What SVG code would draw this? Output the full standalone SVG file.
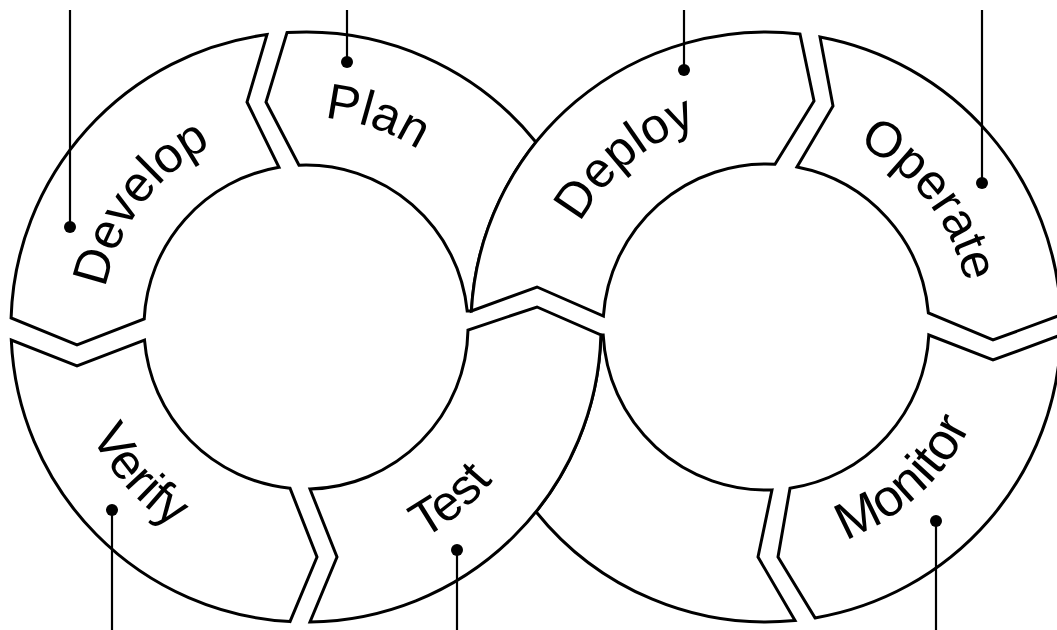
<svg xmlns="http://www.w3.org/2000/svg" width="1057" height="630" viewBox="0 0 1057 630">
  <style>
    .seg { fill: #ffffff; stroke: #000000; stroke-width: 3; stroke-linejoin: miter; }
    .lbl { font-family: "Liberation Sans", Arial, sans-serif; font-size: 50px; fill: #000000; }
    .pin { stroke: #000000; stroke-width: 2.2; fill: none; }
    .dot { fill: #000000; }
  </style>
  <defs>
    <path id="p-develop" d="M157.5,466.9 A204,204 0 0 1 397.7,144.7"/>
    <path id="p-plan" d="M121.8,226.2 A210,210 0 0 1 513.6,358.8"/>
    <path id="p-deploy" d="M581.2,432.9 A213,213 0 0 1 903.5,164.3"/>
    <path id="p-operate" d="M670.5,146.7 A204,204 0 0 1 917.4,463.8"/>
    <path id="p-verify" d="M116.9,177.6 A241,241 0 0 0 432.6,532"/>
    <path id="p-test" d="M149.8,511.8 A242,242 0 0 0 516,206.7"/>
    <path id="p-monitor" d="M627.3,506.7 A227,227 0 0 0 957.8,205.5"/>
  </defs>
  <rect width="1057" height="630" fill="#ffffff"/>

  <g id="develop">
    <path class="seg" d="M11.1,318 A295,295 0 0 1 267,34.6 L247,102 L279,167.3 A162,162 0 0 0 144.2,319 L77,345 Z"/>
    <text class="lbl"><textPath href="#p-develop" startOffset="50%" text-anchor="middle">Develop</textPath></text>
  </g>
  <g id="verify">
    <path class="seg" d="M11.3,340 A295,295 0 0 0 290,621.6 L317,557 L290,488.2 A162,162 0 0 1 144.5,340 L77,366 Z"/>
    <text class="lbl"><textPath href="#p-verify" startOffset="50%" text-anchor="middle">Verify</textPath></text>
  </g>
  <g id="plan">
    <path class="seg" d="M287,32.6 A295,295 0 0 1 536,142.3 A295,295 0 0 0 471.4,311 L467.2,311 A162,162 0 0 0 299,165.2 L266,102 Z"/>
    <text class="lbl"><textPath href="#p-plan" startOffset="50%" text-anchor="middle">Plan</textPath></text>
  </g>
  <g id="return">
    <path class="seg" d="M795,620.6 A295,295 0 0 1 536,511.7 A295,295 0 0 0 600.9,335 L603.2,335 A163,163 0 0 0 772,489.9 L758,557 Z"/>
  </g>
  <g id="operate">
    <path class="seg" d="M820,37 A295,295 0 0 1 1060.8,315 L993,340 L928.4,313 A163,163 0 0 0 797,167 L833,106 Z"/>
    <text class="lbl"><textPath href="#p-operate" startOffset="50%" text-anchor="middle">Operate</textPath></text>
  </g>
  <g id="monitor">
    <path class="seg" d="M1060.9,335 A295,295 0 0 1 815,617.9 L778,557 L790,488.2 A163,163 0 0 0 928.8,335 L993,360 Z"/>
    <text class="lbl" style="font-size:52px"><textPath href="#p-monitor" startOffset="50%" text-anchor="middle">Monitor</textPath></text>
  </g>
  <g id="deploy">
    <path class="seg" d="M471.4,311 A295,295 0 0 1 800,34 L814,101 L775,164.25 A163,163 0 0 0 603.4,316 L537,287 Z"/>
    <text class="lbl"><textPath href="#p-deploy" startOffset="50%" text-anchor="middle">Deploy</textPath></text>
  </g>
  <g id="test">
    <path class="seg" d="M310,622 A295,295 0 0 0 600.9,335 L537,307 L468,330 A162,162 0 0 1 310,489 L337,557 Z"/>
    <text class="lbl"><textPath href="#p-test" startOffset="50%" text-anchor="middle">Test</textPath></text>
  </g>

  <g id="connectors">
    <line class="pin" x1="70" y1="10" x2="70" y2="227"/>
    <circle class="dot" cx="70" cy="227" r="6"/>
    <line class="pin" x1="347" y1="10" x2="347" y2="62"/>
    <circle class="dot" cx="347" cy="62" r="6"/>
    <line class="pin" x1="684" y1="10" x2="684" y2="70"/>
    <circle class="dot" cx="684" cy="70" r="6"/>
    <line class="pin" x1="982" y1="10" x2="982" y2="183"/>
    <circle class="dot" cx="982" cy="183" r="6"/>
    <line class="pin" x1="112" y1="510" x2="112" y2="630"/>
    <circle class="dot" cx="112" cy="510" r="6"/>
    <line class="pin" x1="457" y1="550" x2="457" y2="630"/>
    <circle class="dot" cx="457" cy="550" r="6"/>
    <line class="pin" x1="936" y1="521" x2="936" y2="630"/>
    <circle class="dot" cx="936" cy="521" r="6"/>
  </g>
</svg>
